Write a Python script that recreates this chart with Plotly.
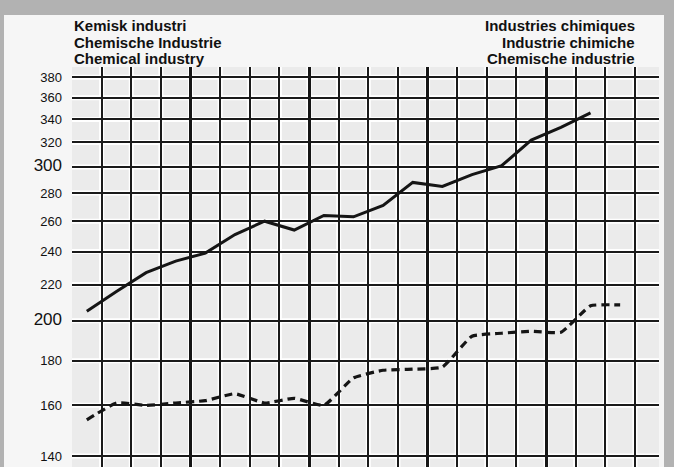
import math
import plotly.graph_objects as go

# Chemical industry index, log scale, one point per column
periods = list(range(19))
production = [205, 216, 227, 234, 239, 251, 260, 254, 264, 263, 271, 288,
              285, 294, 301, 322, 333, 346]
employment = [154, 161, 160, 161, 162, 165, 161, 163, 160, 172, 175.5, 176,
              177, 192, 193.5, 194.5, 194, 208, 208.5]

y_ticks = [140, 160, 180, 200, 220, 240, 260, 280, 300, 320, 340, 360, 380]
big_ticks = [200, 300]
thin_grid = [k + 0.5 for k in range(19)]
thick_grid = [3.5, 7.5, 11.5, 15.5]

titles_left = ["Kemisk industri", "Chemische Industrie", "Chemical industry"]
titles_right = ["Industries chimiques", "Industrie chimiche", "Chemische industrie"]

W, H = 674, 467
ML, MR, MT, MB = 72, 15, 67, 0
PW, PH = W - ML - MR, H - MT - MB

tick_text = []
for v in y_ticks:
    if v in big_ticks:
        tick_text.append(f"<span style='font-size:17px'>{v}</span>")
    else:
        tick_text.append(str(v))

fig = go.Figure()

fig.add_trace(go.Scatter(
    x=periods[:len(production)], y=production, mode="lines",
    line=dict(color="#151515", width=3), hoverinfo="skip"
))
fig.add_trace(go.Scatter(
    x=periods[:len(employment)], y=employment, mode="lines",
    line=dict(color="#151515", width=3.2, dash="8px,5px",
              shape="spline", smoothing=0.4),
    hoverinfo="skip"
))

shapes = []
# light page on top of the grey scan frame
shapes.append(dict(type="rect", xref="paper", yref="paper",
                   x0=(4 - ML) / PW, x1=(664 - ML) / PW,
                   y0=-0.1, y1=(H - 15) / PH, fillcolor="#f6f6f6",
                   line=dict(width=0), layer="below"))
# slightly darker grid area
shapes.append(dict(type="rect", xref="paper", yref="paper",
                   x0=0, x1=1, y0=0, y1=1, fillcolor="#ebebeb",
                   line=dict(width=0), layer="below"))
# white halos under the grid lines (scanned look)
for xv in thin_grid:
    shapes.append(dict(type="line", xref="x", yref="paper", x0=xv, x1=xv,
                       y0=0, y1=1, line=dict(color="white", width=5),
                       layer="below"))
for yv in y_ticks:
    shapes.append(dict(type="line", xref="paper", yref="y", x0=0, x1=1,
                       y0=yv, y1=yv, line=dict(color="white", width=5),
                       layer="below"))

annotations = []
line_y = [25.5, 42, 58.5]
for text, py in zip(titles_left, line_y):
    annotations.append(dict(text=text, xref="paper", yref="paper",
                            x=0, y=(H - py) / PH,
                            xanchor="left", yanchor="middle", showarrow=False,
                            font=dict(size=15, color="#111",
                                      family="Liberation Sans, Arial",
                                      weight="bold")))
for text, py in zip(titles_right, line_y):
    annotations.append(dict(text=text, xref="paper", yref="paper",
                            x=(637 - ML) / PW, y=(H - py) / PH,
                            xanchor="right", yanchor="middle", showarrow=False,
                            font=dict(size=15, color="#111",
                                      family="Liberation Sans, Arial",
                                      weight="bold")))

fig.update_layout(
    width=W, height=H,
    margin=dict(l=ML, r=MR, t=MT, b=MB, autoexpand=False),
    paper_bgcolor="#b2b2b2",
    plot_bgcolor="#ebebeb",
    showlegend=False,
    shapes=shapes,
    annotations=annotations,
    font=dict(family="Liberation Sans, Arial", color="#111", size=13),
)
fig.update_xaxes(
    range=[-0.5, -0.5 + PW / 29.63], automargin=False,
    tickmode="array", tickvals=thick_grid, showticklabels=False,
    showgrid=True, gridcolor="#151515", gridwidth=2.6,
    minor=dict(tickmode="array", tickvals=thin_grid, showgrid=True,
               gridcolor="#1a1a1a", gridwidth=1.5),
    zeroline=False, showline=False, ticks="",
)
fig.update_yaxes(
    type="log", automargin=False,
    range=[math.log10(136.0), math.log10(390.4)],
    tickmode="array", tickvals=y_ticks, ticktext=tick_text,
    showgrid=True, gridcolor="#1a1a1a", gridwidth=1.5,
    zeroline=False, showline=False, ticks="",
    ticklabelstandoff=9,
    tickfont=dict(size=13, color="#111"),
)

# drop the browser's default 8px body margin so the figure sits at 0,0
fig.write_html("out.html", config={"displayModeBar": False},
               post_script="document.body.style.margin='0';")
